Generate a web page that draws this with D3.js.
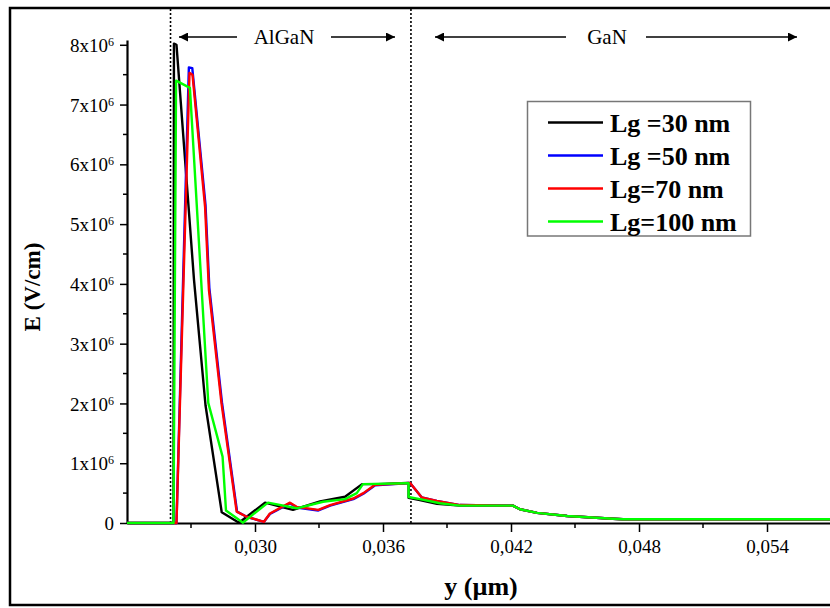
<!DOCTYPE html>
<html><head><meta charset="utf-8">
<script src="https://cdn.jsdelivr.net/npm/d3@7"></script>
<style>
html,body{margin:0;padding:0;background:#fff;}
svg{display:block;}
text{font-family:"Liberation Serif","Times New Roman",serif;}
</style></head>
<body>
<svg id="chart" width="830" height="608"></svg>
<script>
// ---- data ----
const seriesNames = ["Lg =30 nm", "Lg =50 nm", "Lg=70 nm", "Lg=100 nm"];
const seriesColors = ["#000000", "#0000ff", "#ff0000", "#00ff00"];

const y30 = [0.0240, 0.02618, 0.02620, 0.02632, 0.02714, 0.02768, 0.02844, 0.02925, 0.03047, 0.03178, 0.03305, 0.03422, 0.03502, 0.03577, 0.03713, 0.03720, 0.03720, 0.03773, 0.03853, 0.03961, 0.04209, 0.04242, 0.04322, 0.04463, 0.04678, 0.04725, 0.0570];
const e30 = [0, 0, 8.02e6, 8.00e6, 4.07e6, 1.97e6, 0.18e6, 0.005e6, 0.34e6, 0.22e6, 0.36e6, 0.44e6, 0.65e6, 0.65e6, 0.67e6, 0.67e6, 0.42e6, 0.385e6, 0.32e6, 0.29e6, 0.29e6, 0.23e6, 0.17e6, 0.117e6, 0.072e6, 0.062e6, 0.062e6];

const y50 = [0.0240, 0.02632, 0.02690, 0.02706, 0.02768, 0.02786, 0.02845, 0.02916, 0.02963, 0.03042, 0.03070, 0.03164, 0.03195, 0.03297, 0.03352, 0.03461, 0.03508, 0.03563, 0.03727, 0.03781, 0.03852, 0.03961, 0.04209, 0.04242, 0.04322, 0.04463, 0.04678, 0.04725, 0.0570];
const e50 = [0, 0, 7.62e6, 7.61e6, 5.32e6, 3.93e6, 2.02e6, 0.19e6, 0.10e6, 0.02e6, 0.15e6, 0.33e6, 0.26e6, 0.21e6, 0.29e6, 0.40e6, 0.49e6, 0.63e6, 0.67e6, 0.43e6, 0.37e6, 0.30e6, 0.29e6, 0.23e6, 0.17e6, 0.117e6, 0.072e6, 0.062e6, 0.062e6];

const y70 = [0.0240, 0.02632, 0.02693, 0.02707, 0.02766, 0.02784, 0.02843, 0.02914, 0.02961, 0.03042, 0.03070, 0.03164, 0.03195, 0.03297, 0.03352, 0.03461, 0.03508, 0.03563, 0.03727, 0.03781, 0.03852, 0.03961, 0.04209, 0.04242, 0.04322, 0.04463, 0.04678, 0.04725, 0.0570];
const e70 = [0, 0, 7.53e6, 7.50e6, 5.29e6, 3.90e6, 2.00e6, 0.19e6, 0.105e6, 0.02e6, 0.16e6, 0.34e6, 0.27e6, 0.22e6, 0.30e6, 0.41e6, 0.50e6, 0.64e6, 0.67e6, 0.43e6, 0.37e6, 0.30e6, 0.29e6, 0.23e6, 0.17e6, 0.117e6, 0.072e6, 0.062e6, 0.062e6];

const y100 = [0.0240, 0.02618, 0.02630, 0.02695, 0.02781, 0.02848, 0.02864, 0.02944, 0.02977, 0.03061, 0.03195, 0.03319, 0.03422, 0.03477, 0.03506, 0.03713, 0.03720, 0.03720, 0.03773, 0.03867, 0.03961, 0.04209, 0.04242, 0.04322, 0.04463, 0.04678, 0.04725, 0.0570];
const e100 = [0, 0, 7.40e6, 7.28e6, 2.01e6, 1.11e6, 0.21e6, 0.005e6, 0.105e6, 0.34e6, 0.246e6, 0.356e6, 0.40e6, 0.50e6, 0.65e6, 0.665e6, 0.665e6, 0.435e6, 0.40e6, 0.33e6, 0.29e6, 0.29e6, 0.23e6, 0.17e6, 0.117e6, 0.072e6, 0.062e6, 0.062e6];

const xMajorTicks = [0.030, 0.036, 0.042, 0.048, 0.054];
const xTickLabels = ["0,030", "0,036", "0,042", "0,048", "0,054"];
const xMinorTicks = [0.027, 0.033, 0.039, 0.045, 0.051];
const yMajorTicks = [0, 1e6, 2e6, 3e6, 4e6, 5e6, 6e6, 7e6, 8e6];
const yTickMantissa = ["0", "1", "2", "3", "4", "5", "6", "7", "8"];
const yMinorTicks = [0.5e6, 1.5e6, 2.5e6, 3.5e6, 4.5e6, 5.5e6, 6.5e6, 7.5e6];
const layerBounds = [0.02604, 0.03731]; // AlGaN start, AlGaN/GaN interface

// ---- layout ----
const svg = d3.select("#chart");
const x = d3.scaleLinear().domain([0.024, 0.057]).range([127, 831]);
const y = d3.scaleLinear().domain([0, 8.08e6]).range([523, 40]);

// outer frame
svg.append("rect").attr("x", 10).attr("y", 8).attr("width", 840).attr("height", 597)
  .attr("fill", "none").attr("stroke", "#000").attr("stroke-width", 2.5);

// dotted layer boundaries
svg.selectAll("line.bound").data(layerBounds).enter().append("line")
  .attr("x1", d => x(d)).attr("x2", d => x(d)).attr("y1", 9).attr("y2", 523)
  .attr("stroke", "#000").attr("stroke-width", 1.6).attr("stroke-dasharray", "2,2");

// axes
const gx = svg.append("g").attr("transform", "translate(0,523)")
  .call(d3.axisBottom(x).tickValues(xMajorTicks).tickSize(9).tickSizeOuter(0)
    .tickFormat((d, i) => xTickLabels[i]));
gx.append("g").selectAll("line").data(xMinorTicks).enter().append("line")
  .attr("x1", d => x(d)).attr("x2", d => x(d)).attr("y1", 0).attr("y2", 5)
  .attr("stroke", "#000").attr("stroke-width", 1.5);
gx.select(".domain").attr("stroke-width", 2.2);
gx.selectAll(".tick line").attr("stroke-width", 1.5);
gx.selectAll(".tick text").attr("font-size", 19).attr("dy", "0.95em").attr("fill", "#000")
  .attr("font-family", "Liberation Serif");

const gy = svg.append("g").attr("transform", "translate(127,0)")
  .call(d3.axisLeft(y).tickValues(yMajorTicks).tickSize(7).tickSizeOuter(0).tickFormat(""));
gy.append("g").selectAll("line").data(yMinorTicks).enter().append("line")
  .attr("x1", 0).attr("x2", -4).attr("y1", d => y(d)).attr("y2", d => y(d))
  .attr("stroke", "#000").attr("stroke-width", 1.5);
gy.select(".domain").attr("stroke-width", 2.2);
gy.selectAll(".tick line").attr("stroke-width", 1.5);
gy.selectAll(".tick").each(function(d, i) {
  const t = d3.select(this).append("text").attr("x", -13).attr("y", 0).attr("dy", "0.35em")
    .attr("text-anchor", "end").attr("font-size", 19).attr("fill", "#000")
    .attr("font-family", "Liberation Serif");
  if (d === 0) { t.text(yTickMantissa[i]); }
  else {
    t.append("tspan").text(yTickMantissa[i] + "x10");
    t.append("tspan").attr("dy", "-0.5em").attr("font-size", 12).text("6");
  }
});

// axis titles
svg.append("text").attr("transform", "translate(40,287) rotate(-90)")
  .attr("text-anchor", "middle").attr("font-size", 23).attr("font-weight", "bold")
  .text("E (V/cm)");
svg.append("text").attr("x", 481).attr("y", 595)
  .attr("text-anchor", "middle").attr("font-size", 26).attr("font-weight", "bold")
  .text("y (µm)");

// data lines
const series = [
  {xs: y30, es: e30}, {xs: y50, es: e50}, {xs: y70, es: e70}, {xs: y100, es: e100}
];
const line = d3.line().x(d => x(d[0])).y(d => y(d[1]));
series.forEach((s, i) => {
  const pts = s.xs.map((v, j) => [v, s.es[j]]);
  svg.append("path").datum(pts).attr("d", line).attr("fill", "none")
    .attr("stroke", seriesColors[i]).attr("stroke-width", 2.4).attr("stroke-linejoin", "round");
});

// arrows / layer annotations
const defs = svg.append("defs");
defs.append("marker").attr("id", "ah").attr("viewBox", "0 0 10 10").attr("refX", 10).attr("refY", 5)
  .attr("markerWidth", 11).attr("markerHeight", 9).attr("markerUnits", "userSpaceOnUse")
  .attr("orient", "auto").append("path").attr("d", "M0,0 L10,5 L0,10 Z").attr("fill", "#000");
function arrow(x1, x2, yy) {
  svg.append("line").attr("x1", x1).attr("x2", x2).attr("y1", yy).attr("y2", yy)
    .attr("stroke", "#000").attr("stroke-width", 1.6).attr("marker-end", "url(#ah)");
}
arrow(237, 179, 37); arrow(331, 395, 37);
arrow(566, 435, 37); arrow(646, 797, 37);
svg.append("text").attr("x", 284).attr("y", 44).attr("text-anchor", "middle").attr("font-size", 21).text("AlGaN");
svg.append("text").attr("x", 607).attr("y", 44).attr("text-anchor", "middle").attr("font-size", 21).text("GaN");

// legend
const lg = svg.append("g");
lg.append("rect").attr("x", 527.5).attr("y", 101.5).attr("width", 223).attr("height", 134.5)
  .attr("fill", "#fff").attr("stroke", "#777").attr("stroke-width", 1.5);
seriesNames.forEach((n, i) => {
  const yy = 122.5 + i * 33;
  lg.append("line").attr("x1", 548).attr("x2", 603).attr("y1", yy).attr("y2", yy)
    .attr("stroke", seriesColors[i]).attr("stroke-width", 2.4);
  lg.append("text").attr("x", 610).attr("y", yy).attr("dy", "0.35em").attr("font-size", 26)
    .attr("font-weight", "bold").text(n);
});
</script>
</body></html>
